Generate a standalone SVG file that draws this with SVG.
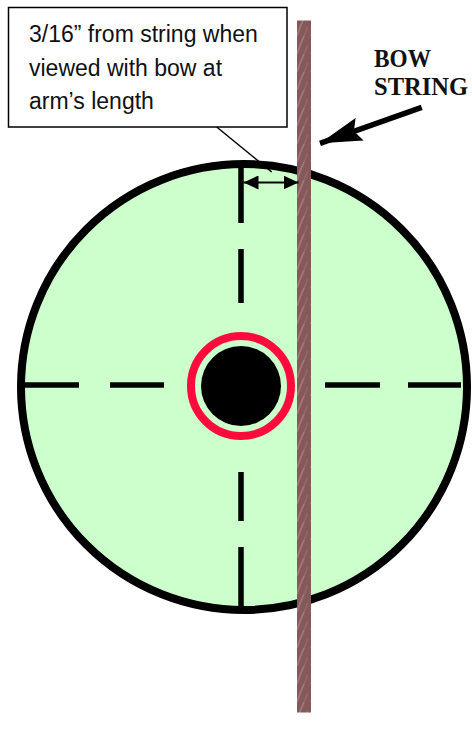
<svg xmlns="http://www.w3.org/2000/svg" width="472" height="740" viewBox="0 0 472 740">
<style>
.dash{stroke:#000;stroke-width:5.5;fill:none}
.lbl{font-family:"Liberation Sans",Arial,sans-serif;font-size:23px;fill:#111}
.bow{font-family:"Liberation Serif","Times New Roman",serif;font-weight:bold;font-size:24.5px;fill:#111}
</style>
<defs>
<pattern id="streak" width="14" height="18" patternUnits="userSpaceOnUse">
<rect width="14" height="18" fill="#85585a"/>
<path d="M3,18 Q6,9 10,0" stroke="#b08c8e" stroke-width="1.8" fill="none" opacity="0.6"/>
<path d="M10,18 Q12,14 13.5,9" stroke="#9c7577" stroke-width="1.4" fill="none" opacity="0.6"/>
</pattern>
<marker id="ah" viewBox="0 0 15 14" refX="15" refY="7" markerWidth="15" markerHeight="14" markerUnits="userSpaceOnUse" orient="auto-start-reverse">
<path d="M0,0 L15,7 L0,14 Z" fill="#000"/>
</marker>
<marker id="bigah" viewBox="0 0 42 24" refX="42" refY="12" markerWidth="42" markerHeight="24" markerUnits="userSpaceOnUse" orient="auto">
<path d="M0,0 L42,12 L0,24 L6,12 Z" fill="#000"/>
</marker>
</defs>
<g id="target">
<circle cx="244" cy="387" r="223" fill="#ccffcc" stroke="#000" stroke-width="8"/>
<path class="dash" d="M241,163 V223 M241,249 V303 M241,472 V521 M241,547 V607 M20,385 H79 M110,385 H164 M325,385 H380 M408,385 H461"/>
</g>
<g id="center">
<circle cx="241" cy="386" r="50" fill="#ccffcc" stroke="#ff0a3c" stroke-width="8"/>
<circle cx="241" cy="386" r="40" fill="#000"/>
</g>
<g id="bowstring">
<rect x="297" y="20.5" width="14" height="692" fill="url(#streak)"/>
</g>
<g id="callout">
<rect x="8.5" y="7.5" width="278.5" height="119.5" fill="#fff" stroke="#000" stroke-width="1.5"/>
<text class="lbl" x="29" y="42">3/16” from string when</text>
<text class="lbl" x="29" y="75.5">viewed with bow at</text>
<text class="lbl" x="29" y="108.5">arm’s length</text>
</g>
<g id="bowlabel">
<text class="bow" x="374" y="67" textLength="57" lengthAdjust="spacingAndGlyphs">BOW</text>
<text class="bow" x="374" y="95" textLength="94" lengthAdjust="spacingAndGlyphs">STRING</text>
</g>
<g id="connectors">
<line x1="216.7" y1="127" x2="271.7" y2="172" stroke="#000" stroke-width="1.5"/>
<line x1="243.5" y1="182.5" x2="298.5" y2="182.5" stroke="#000" stroke-width="2.2" marker-start="url(#ah)" marker-end="url(#ah)"/>
<line x1="421.7" y1="107.3" x2="320" y2="143.3" stroke="#000" stroke-width="5.5" marker-end="url(#bigah)"/>
</g>
</svg>
